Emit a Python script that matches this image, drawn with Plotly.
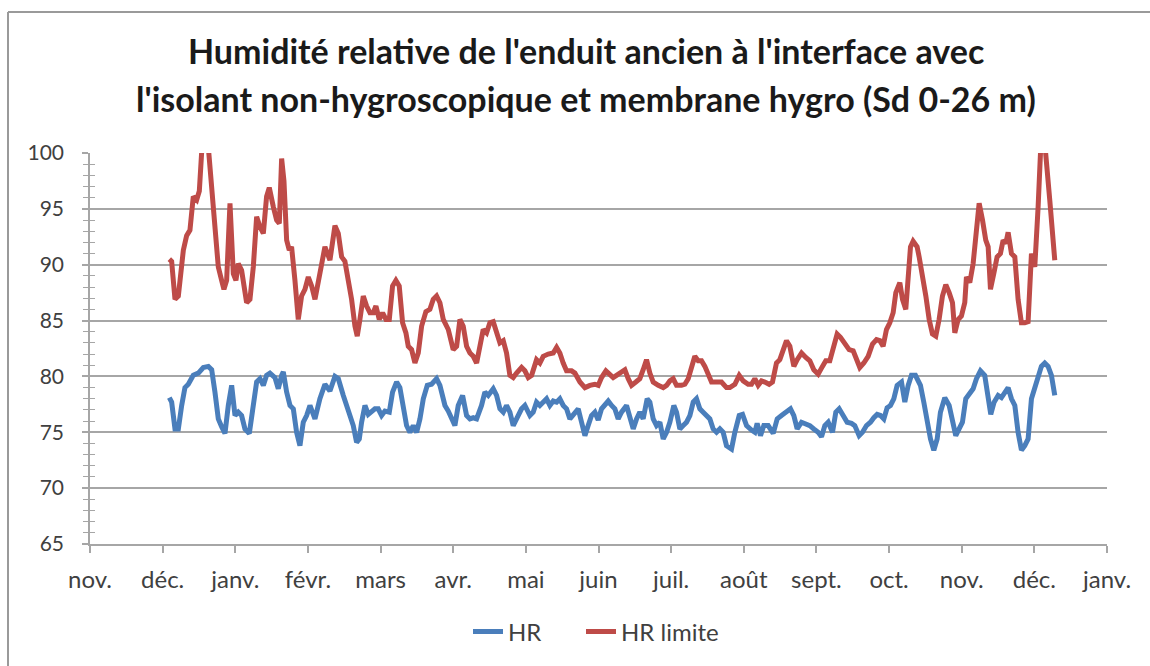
import plotly.graph_objects as go

# Axis: months counted from 1 November (0) to 1 January of the second year (14)
mois = ["nov.", "déc.", "janv.", "févr.", "mars", "avr.", "mai", "juin",
        "juil.", "août", "sept.", "oct.", "nov.", "déc.", "janv."]

# HR limite (%)
t_lim = [1.092, 1.124, 1.170, 1.216, 1.285, 1.330, 1.376, 1.422, 1.468, 1.505,
         1.578, 1.720, 1.766, 1.812, 1.844, 1.881, 1.927, 1.973, 2.009, 2.041,
         2.087, 2.156, 2.202, 2.248, 2.294, 2.340, 2.386, 2.431, 2.468, 2.523,
         2.569, 2.606, 2.638, 2.670, 2.707, 2.743, 2.775, 2.821, 2.867, 2.913,
         2.959, 3.005, 3.051, 3.097, 3.165, 3.234, 3.303, 3.372, 3.418, 3.464,
         3.509, 3.555, 3.601, 3.647, 3.679, 3.716, 3.762, 3.808, 3.854, 3.899,
         3.936, 3.982, 4.028, 4.074, 4.120, 4.165, 4.211, 4.257, 4.303, 4.349,
         4.381, 4.427, 4.473, 4.519, 4.565, 4.624, 4.679, 4.725, 4.771, 4.817,
         4.863, 4.932, 5.000, 5.047, 5.092, 5.138, 5.184, 5.230, 5.276, 5.322,
         5.367, 5.413, 5.459, 5.505, 5.551, 5.597, 5.643, 5.689, 5.734, 5.780,
         5.826, 5.872, 5.941, 5.987, 6.033, 6.079, 6.147, 6.193, 6.239, 6.308,
         6.377, 6.423, 6.468, 6.514, 6.560, 6.629, 6.675, 6.744, 6.813, 6.881,
         6.950, 6.996, 7.042, 7.102, 7.157, 7.202, 7.248, 7.294, 7.363, 7.409,
         7.455, 7.514, 7.569, 7.615, 7.661, 7.707, 7.753, 7.822, 7.891, 7.937,
         7.982, 8.028, 8.074, 8.143, 8.189, 8.235, 8.281, 8.326, 8.372, 8.418,
         8.464, 8.510, 8.556, 8.625, 8.693, 8.762, 8.808, 8.877, 8.937, 8.992,
         9.060, 9.106, 9.152, 9.198, 9.244, 9.290, 9.349, 9.395, 9.450, 9.496,
         9.542, 9.588, 9.634, 9.689, 9.735, 9.795, 9.854, 9.909, 9.964, 10.024,
         10.083, 10.129, 10.184, 10.230, 10.285, 10.331, 10.391, 10.450, 10.506, 10.551,
         10.597, 10.652, 10.712, 10.772, 10.827, 10.873, 10.918, 10.964, 11.010, 11.056,
         11.093, 11.148, 11.185, 11.230, 11.263, 11.295, 11.331, 11.386, 11.414, 11.460,
         11.506, 11.552, 11.597, 11.643, 11.689, 11.735, 11.781, 11.827, 11.873, 11.905,
         11.951, 11.996, 12.042, 12.065, 12.111, 12.157, 12.203, 12.240, 12.286, 12.331,
         12.364, 12.396, 12.441, 12.487, 12.533, 12.570, 12.607, 12.639, 12.685, 12.731,
         12.776, 12.822, 12.868, 12.914, 12.960, 13.006, 13.052, 13.108, 13.212, 13.249,
         13.281]
hr_lim = [90.5, 90.3, 86.9, 87.2, 91.3, 92.6, 93.1, 96.1, 95.8, 96.6,
          104.5, 93.7, 89.8, 88.6, 87.8, 88.6, 95.5, 89.2, 88.6, 90.1,
          89.5, 86.6, 86.9, 89.8, 94.3, 93.4, 92.8, 96.1, 96.9, 95.2,
          94.0, 93.7, 99.5, 97.5, 92.2, 91.3, 91.6, 88.6, 85.1, 87.2,
          87.8, 88.9, 88.1, 86.9, 89.2, 91.6, 90.4, 93.5, 92.8, 90.7,
          90.3, 88.6, 86.9, 84.5, 83.6, 85.1, 87.2, 86.3, 85.7, 85.7,
          86.3, 85.1, 85.7, 85.1, 85.1, 88.1, 88.6, 88.1, 84.8, 83.9,
          82.7, 82.4, 81.2, 82.1, 84.5, 85.8, 86.0, 86.9, 87.2, 86.6,
          85.1, 84.2, 82.4, 82.7, 85.1, 84.5, 82.7, 82.1, 81.8, 81.2,
          82.7, 84.2, 83.9, 84.8, 84.9, 83.9, 83.0, 83.2, 82.1, 80.1,
          79.9, 80.3, 80.8, 80.5, 79.9, 80.1, 81.5, 81.2, 81.8, 82.0,
          82.1, 82.6, 82.1, 81.2, 80.5, 80.5, 80.3, 79.5, 79.0, 79.2,
          79.3, 79.2, 79.9, 80.5, 80.2, 79.9, 80.1, 80.3, 80.6, 79.8,
          79.2, 79.5, 79.8, 80.6, 81.5, 80.3, 79.5, 79.2, 79.0, 79.2,
          79.6, 79.8, 79.2, 79.2, 79.3, 79.8, 80.9, 81.8, 81.4, 81.4,
          80.9, 80.1, 79.5, 79.5, 79.5, 79.0, 79.0, 79.3, 80.1, 79.6,
          79.3, 79.3, 79.8, 79.2, 79.6, 79.5, 79.3, 79.5, 81.2, 81.5,
          82.4, 83.2, 82.7, 80.9, 81.5, 82.1, 81.7, 81.4, 80.6, 80.2,
          80.9, 81.4, 81.4, 82.4, 83.8, 83.5, 82.9, 82.4, 82.3, 81.4,
          80.8, 81.2, 81.8, 82.9, 83.3, 83.2, 82.7, 84.2, 84.8, 85.7,
          87.5, 88.4, 86.9, 86.0, 88.6, 91.6, 92.1, 91.6, 90.7, 89.2,
          87.2, 85.1, 83.8, 83.6, 85.1, 87.2, 88.2, 87.5, 86.6, 83.9,
          85.1, 85.4, 86.6, 88.9, 88.4, 90.1, 92.8, 95.5, 94.0, 92.2,
          91.6, 87.8, 89.2, 90.7, 91.0, 92.2, 91.9, 92.9, 91.0, 90.7,
          86.9, 84.8, 84.8, 84.9, 91.0, 89.8, 95.2, 103.5, 95.8, 92.2,
          90.4]

# HR (%)
t_hr = [1.092, 1.124, 1.170, 1.216, 1.262, 1.307, 1.353, 1.422, 1.491, 1.560,
        1.629, 1.675, 1.720, 1.766, 1.812, 1.858, 1.904, 1.950, 1.996, 2.041,
        2.087, 2.133, 2.193, 2.248, 2.294, 2.340, 2.386, 2.431, 2.477, 2.546,
        2.592, 2.638, 2.661, 2.707, 2.753, 2.799, 2.844, 2.890, 2.936, 2.982,
        3.028, 3.097, 3.165, 3.234, 3.303, 3.372, 3.418, 3.487, 3.532, 3.578,
        3.624, 3.670, 3.707, 3.739, 3.785, 3.831, 3.877, 3.922, 3.968, 4.014,
        4.060, 4.120, 4.165, 4.221, 4.266, 4.312, 4.358, 4.404, 4.450, 4.496,
        4.542, 4.588, 4.643, 4.702, 4.771, 4.817, 4.886, 4.932, 4.978, 5.023,
        5.069, 5.129, 5.184, 5.230, 5.276, 5.322, 5.390, 5.436, 5.482, 5.551,
        5.597, 5.643, 5.689, 5.734, 5.780, 5.826, 5.872, 5.941, 5.987, 6.056,
        6.101, 6.147, 6.193, 6.239, 6.285, 6.331, 6.377, 6.423, 6.468, 6.514,
        6.560, 6.606, 6.652, 6.721, 6.767, 6.813, 6.858, 6.904, 6.950, 6.996,
        7.042, 7.088, 7.134, 7.180, 7.225, 7.271, 7.317, 7.386, 7.432, 7.478,
        7.524, 7.569, 7.615, 7.670, 7.707, 7.753, 7.799, 7.845, 7.891, 7.937,
        7.982, 8.037, 8.074, 8.120, 8.166, 8.212, 8.258, 8.304, 8.349, 8.395,
        8.441, 8.487, 8.533, 8.579, 8.625, 8.671, 8.716, 8.762, 8.831, 8.877,
        8.937, 8.983, 9.038, 9.106, 9.152, 9.184, 9.230, 9.276, 9.336, 9.405,
        9.460, 9.519, 9.588, 9.643, 9.689, 9.735, 9.795, 9.854, 9.909, 9.964,
        10.024, 10.070, 10.116, 10.162, 10.221, 10.267, 10.313, 10.368, 10.423, 10.483,
        10.528, 10.588, 10.634, 10.689, 10.744, 10.790, 10.836, 10.882, 10.928, 10.973,
        11.019, 11.065, 11.111, 11.171, 11.217, 11.263, 11.308, 11.363, 11.432, 11.478,
        11.524, 11.570, 11.616, 11.662, 11.707, 11.767, 11.827, 11.873, 11.918, 11.964,
        12.010, 12.056, 12.102, 12.157, 12.203, 12.258, 12.317, 12.364, 12.400, 12.446,
        12.501, 12.547, 12.593, 12.639, 12.685, 12.731, 12.776, 12.822, 12.868, 12.914,
        12.960, 13.006, 13.052, 13.097, 13.143, 13.189, 13.235, 13.281]
hr = [78.1, 77.7, 75.3, 75.3, 77.4, 79.0, 79.3, 80.1, 80.3, 80.8,
      80.9, 80.6, 78.6, 76.2, 75.5, 74.9, 77.4, 79.2, 76.5, 76.8,
      76.5, 75.3, 74.9, 77.4, 79.5, 79.8, 79.2, 80.1, 80.3, 79.9,
      78.9, 80.1, 80.4, 78.6, 77.4, 77.1, 75.0, 73.8, 75.9, 76.5,
      77.4, 76.2, 78.0, 79.3, 78.7, 80.0, 79.8, 78.3, 77.4, 76.8,
      75.6, 74.1, 74.4, 75.9, 77.4, 76.6, 76.8, 77.1, 77.1, 76.5,
      76.9, 76.8, 78.6, 79.5, 79.0, 77.1, 75.6, 75.0, 75.6, 75.0,
      76.2, 78.0, 79.2, 79.3, 79.8, 79.2, 77.4, 76.9, 76.2, 75.6,
      77.4, 78.3, 76.5, 76.2, 76.3, 76.2, 77.4, 78.6, 78.3, 78.9,
      78.3, 77.1, 76.8, 77.4, 76.8, 75.6, 76.2, 77.1, 77.4, 76.5,
      76.8, 77.7, 77.4, 77.7, 78.0, 77.4, 77.8, 77.7, 78.0, 77.4,
      77.1, 76.2, 76.5, 77.1, 75.9, 74.7, 75.6, 76.5, 76.8, 76.1,
      77.1, 77.4, 77.8, 77.4, 77.1, 76.2, 76.8, 77.4, 76.5, 75.3,
      76.2, 76.8, 76.2, 78.0, 77.7, 76.2, 75.6, 75.9, 74.4, 75.0,
      75.9, 77.4, 76.8, 75.3, 75.6, 75.9, 76.5, 77.7, 78.0, 77.1,
      76.8, 76.5, 76.2, 75.3, 75.0, 75.3, 75.0, 73.8, 73.5, 75.0,
      76.5, 76.6, 75.6, 75.2, 75.0, 75.8, 74.7, 75.6, 75.6, 74.9,
      76.2, 76.5, 76.8, 77.1, 76.5, 75.3, 75.9, 75.8, 75.6, 75.3,
      75.0, 74.6, 75.6, 75.9, 75.0, 76.8, 77.1, 76.5, 75.9, 75.8,
      75.6, 74.7, 75.0, 75.6, 75.9, 76.3, 76.6, 76.5, 76.2, 77.2,
      77.4, 78.0, 79.2, 79.5, 77.7, 79.2, 80.1, 80.1, 79.2, 77.7,
      75.9, 74.4, 73.4, 74.4, 76.8, 78.1, 77.4, 76.2, 74.7, 75.3,
      75.9, 78.0, 78.4, 78.9, 79.8, 80.5, 80.1, 78.3, 76.6, 77.7,
      78.3, 78.1, 78.6, 79.0, 78.0, 77.4, 75.0, 73.4, 73.8, 74.4,
      78.0, 78.9, 80.1, 80.9, 81.2, 80.9, 80.1, 78.3]

titre_1 = "Humidité relative de l'enduit ancien à l'interface avec"
titre_2 = "l'isolant non-hygroscopique et membrane hygro (Sd 0-26 m)"

BLEU = "#4a7ebb"
ROUGE = "#be4b48"
GRIS = "#a6a6a6"
TEXTE = "#404040"
POLICE = "Lato, Open Sans, sans-serif"

fig = go.Figure()
fig.add_trace(go.Scatter(x=t_hr, y=hr, mode="lines", name="HR",
                         line=dict(color=BLEU, width=5), legend="legend"))
fig.add_trace(go.Scatter(x=t_lim, y=hr_lim, mode="lines", name="HR limite",
                         line=dict(color=ROUGE, width=5), legend="legend2"))
# empty trace carrying the inner half of the cross-style y ticks
fig.add_trace(go.Scatter(x=[None], y=[None], yaxis="y2", showlegend=False,
                         hoverinfo="skip"))

leg_style = dict(orientation="h", xanchor="left", y=-0.225, yanchor="middle",
                 font=dict(size=24, color=TEXTE), bgcolor="rgba(0,0,0,0)")

fig.update_layout(
    width=1150, height=666,
    margin=dict(l=90, r=43, t=153, b=119),
    paper_bgcolor="white", plot_bgcolor="white",
    font=dict(family=POLICE, size=21, color=TEXTE),
    showlegend=True,
    legend=dict(x=(468 - 90) / 1017, **leg_style),
    legend2=dict(x=(581 - 90) / 1017, **leg_style),
    xaxis=dict(range=[0, 14], tickmode="array",
               tickvals=list(range(len(mois))), ticktext=mois,
               tickfont=dict(size=24),
               showgrid=False, zeroline=False,
               showline=True, linecolor=GRIS, linewidth=1.5,
               ticks="outside", ticklen=7, tickcolor=GRIS, tickwidth=1.5,
               ticklabelstandoff=6),
    yaxis=dict(range=[65, 100], dtick=5, tick0=65,
               tickfont=dict(size=21),
               showgrid=True, gridcolor=GRIS, gridwidth=1.5, zeroline=False,
               showline=True, linecolor=GRIS, linewidth=1.5,
               ticks="outside", ticklen=6, tickcolor=GRIS, tickwidth=1.5,
               minor=dict(dtick=1, ticks="outside", ticklen=5,
                          tickcolor=GRIS, tickwidth=1.2, showgrid=False),
               ticklabelstandoff=14),
    yaxis2=dict(range=[65, 100], dtick=5, tick0=65, overlaying="y",
                side="left", showgrid=False, zeroline=False,
                showticklabels=False, showline=False,
                ticks="inside", ticklen=6, tickcolor=GRIS, tickwidth=1.5,
                minor=dict(dtick=1, ticks="inside", ticklen=5,
                           tickcolor=GRIS, tickwidth=1.2, showgrid=False)),
)

# two-line title
for txt, ypx in [(titre_1, 50), (titre_2, 98)]:
    fig.add_annotation(text=f"<b>{txt}</b>", xref="paper", yref="paper",
                       x=(586 - 90) / 1017, y=(547 - ypx) / 394,
                       xanchor="center", yanchor="middle", showarrow=False,
                       font=dict(family=POLICE, size=34, color="#1a1a1a"))

# chart-area frame (left and top edges)
fx0 = (8 - 90) / 1017
fy0 = (547 - 11) / 394
fig.add_shape(type="line", xref="paper", yref="paper",
              x0=fx0, x1=fx0, y0=fy0, y1=-0.5,
              line=dict(color="#9a9a9a", width=2))
fig.add_shape(type="line", xref="paper", yref="paper",
              x0=fx0, x1=1.1, y0=fy0, y1=fy0,
              line=dict(color="#9a9a9a", width=2))

fig.write_html("out.html")
